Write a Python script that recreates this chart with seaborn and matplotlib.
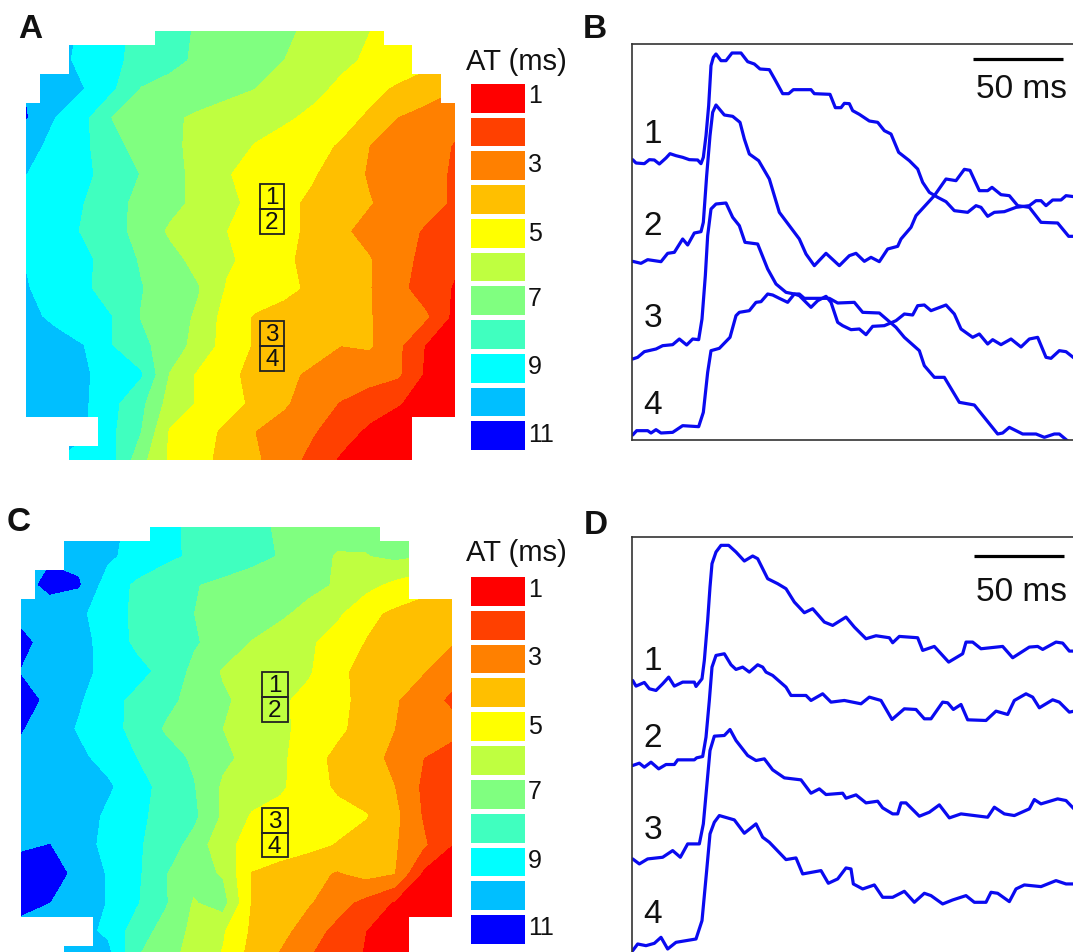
import numpy as np
import matplotlib
matplotlib.use("Agg")
import matplotlib.pyplot as plt
from matplotlib.colors import ListedColormap
from matplotlib.patches import Polygon, Rectangle
import seaborn as sns

sns.set_style("white")
plt.rcParams['font.family'] = ['Liberation Sans', 'DejaVu Sans']

W, H = 1073, 953

# activation time bands, 1 ms (red) to 11 ms (blue)
band_colors = ["#FF0000", "#FF4000", "#FF8000", "#FFBF00", "#FFFF00", "#BFFF40",
               "#80FF80", "#40FFBF", "#00FFFF", "#00BFFF", "#0000FF"]
band_values = [1, 2, 3, 4, 5, 6, 7, 8, 9, 10, 11]
band_labels = ["1", "", "3", "", "5", "", "7", "", "9", "", "11"]
levels = [0.5, 1.5, 2.5, 3.5, 4.5, 5.5, 6.5, 7.5, 8.5, 9.5, 10.5, 11.5]

# AT values on a 16 x 16 electrode grid (every second cell of the 30 x 30 map)
at_a = [
    [10.5, 10.0, 9.3, 8.8, 8.2, 7.8, 7.4, 7.15, 6.9, 6.65, 6.3, 5.9, 5.5, 5.1, 4.8, 4.5],
    [10.4, 9.8, 9.25, 8.7, 8.2, 7.75, 7.35, 7.05, 6.8, 6.5, 6.05, 5.7, 5.35, 5.15, 4.8, 4.3],
    [10.4, 10.1, 9.5, 8.65, 7.45, 7.2, 7.0, 6.75, 6.5, 6.1, 5.75, 5.3, 4.8, 4.35, 3.95, 3.55],
    [10.55, 9.5, 8.75, 7.45, 7.05, 6.65, 6.35, 6.1, 5.85, 5.65, 5.3, 4.85, 4.35, 3.5, 3.15, 2.75],
    [9.8, 9.25, 8.7, 7.75, 7.15, 6.7, 6.25, 5.85, 5.45, 5.1, 4.8, 4.4, 3.5, 3.15, 2.8, 2.45],
    [9.5, 9.1, 8.7, 8.1, 7.45, 6.85, 6.2, 5.55, 5.2, 4.9, 4.6, 4.0, 3.4, 3.05, 2.75, 2.4],
    [9.4, 9.0, 8.5, 7.8, 7.25, 6.8, 6.25, 5.75, 5.2, 4.75, 4.3, 3.95, 3.55, 3.1, 2.75, 2.4],
    [9.4, 8.95, 8.4, 7.85, 7.15, 6.35, 5.95, 5.5, 5.15, 4.75, 4.3, 3.65, 3.2, 2.8, 2.4, 2.0],
    [9.45, 9.1, 8.7, 8.1, 7.4, 6.8, 6.2, 5.65, 5.15, 4.65, 4.25, 3.9, 3.55, 2.85, 2.2, 1.65],
    [9.55, 9.1, 8.65, 8.1, 7.55, 7.0, 6.55, 5.4, 5.05, 4.7, 4.35, 3.95, 3.55, 2.75, 2.05, 1.4],
    [9.75, 9.3, 8.9, 8.5, 7.45, 6.95, 6.35, 5.05, 4.4, 4.2, 3.95, 3.75, 3.55, 3.05, 2.6, 1.2],
    [10.1, 9.85, 9.5, 8.5, 7.75, 7.0, 6.15, 5.05, 4.4, 4.15, 3.85, 3.5, 3.6, 2.7, 1.4, 1.0],
    [10.1, 9.9, 9.6, 9.15, 8.6, 6.45, 5.35, 4.75, 4.2, 3.7, 3.35, 3.1, 2.9, 2.65, 1.3, 1.0],
    [10.1, 9.9, 9.65, 8.75, 7.75, 6.1, 5.4, 4.85, 4.3, 3.65, 2.95, 2.45, 2.0, 1.55, 1.2, 1.0],
    [10.0, 9.9, 9.6, 8.65, 7.5, 5.4, 4.9, 4.3, 3.5, 3.05, 2.6, 1.95, 1.3, 1.1, 1.0, 1.0],
    [9.6, 9.5, 9.2, 8.75, 6.8, 5.35, 4.8, 4.2, 3.65, 2.95, 2.2, 1.35, 1.1, 1.0, 1.0, 1.0],
]
at_c = [
    [10.6, 10.3, 10.05, 9.75, 9.25, 8.75, 8.3, 8.0, 7.7, 7.4, 7.2, 7.0, 6.8, 6.55, 6.3, 6.0],
    [10.4, 10.4, 10.2, 9.7, 9.1, 8.7, 8.35, 8.05, 7.75, 7.45, 7.0, 6.4, 6.45, 6.7, 6.5, 6.2],
    [10.2, 10.7, 10.6, 9.0, 8.35, 7.95, 7.55, 7.3, 7.1, 6.95, 6.75, 6.4, 5.8, 5.25, 4.8, 4.4],
    [10.2, 10.1, 9.7, 8.95, 8.3, 7.9, 7.5, 7.25, 7.0, 6.65, 6.2, 5.65, 4.75, 4.3, 4.1, 3.85],
    [10.75, 10.1, 9.85, 9.1, 8.3, 7.95, 7.6, 7.1, 6.45, 6.05, 5.65, 5.05, 4.45, 4.15, 3.85, 3.55],
    [10.45, 10.3, 9.75, 9.25, 8.8, 8.2, 7.25, 6.4, 6.15, 5.9, 5.6, 4.7, 4.2, 3.95, 3.55, 2.9],
    [10.75, 10.35, 9.6, 8.85, 8.25, 7.75, 7.2, 6.65, 6.15, 5.65, 5.2, 4.75, 4.2, 3.6, 2.95, 2.3],
    [10.55, 10.0, 9.4, 8.85, 8.2, 7.4, 6.95, 6.5, 6.0, 5.65, 5.25, 4.7, 4.1, 3.5, 2.95, 2.85],
    [10.2, 10.05, 9.7, 9.15, 8.5, 7.9, 7.35, 6.7, 6.2, 5.7, 4.9, 4.25, 3.8, 3.3, 2.5, 2.0],
    [10.2, 10.2, 10.05, 9.65, 8.9, 8.15, 7.55, 6.35, 6.0, 5.65, 4.95, 4.35, 3.95, 3.5, 2.3, 2.0],
    [10.35, 10.3, 10.05, 9.3, 8.7, 8.2, 7.7, 6.35, 5.4, 5.1, 4.9, 4.8, 4.55, 3.75, 2.4, 1.95],
    [10.35, 10.5, 9.95, 9.2, 8.65, 8.0, 7.15, 5.75, 5.2, 4.95, 4.75, 4.45, 4.1, 3.6, 2.65, 1.5],
    [10.9, 10.8, 10.3, 9.4, 8.7, 7.55, 6.85, 6.4, 4.45, 4.15, 3.85, 3.4, 3.8, 3.5, 1.3, 1.0],
    [10.9, 10.5, 10.1, 9.45, 8.6, 7.6, 6.4, 6.9, 4.45, 4.0, 3.6, 2.9, 2.2, 1.4, 1.0, 1.0],
    [10.0, 10.0, 9.9, 9.25, 8.0, 7.1, 6.25, 5.6, 4.35, 3.85, 2.95, 2.2, 1.5, 1.1, 1.0, 1.0],
    [10.0, 10.0, 10.0, 10.0, 7.5, 6.9, 6.0, 5.4, 4.1, 3.3, 2.5, 2.0, 1.4, 1.0, 1.0, 1.0],
]
grid_nodes = [0, 2, 4, 6, 8, 10, 12, 14, 16, 18, 20, 22, 24, 26, 28, 30]

# staircase edge of the electrode array: first row, last row, left col, right col
edge_a = [(0, 1, 9, 25), (1, 3, 3, 27), (3, 5, 1, 29), (5, 27, 0, 30), (27, 29, 5, 27), (29, 30, 3, 27)]
edge_c = [(0, 1, 9, 25), (1, 3, 3, 27), (3, 5, 1, 27), (5, 27, 0, 30), (27, 29, 5, 27), (29, 30, 3, 27)]

# optical action potentials, x in samples (5.4 per ms), y in display units
b1_x = [170, 180, 205, 220, 235, 250, 270, 282, 300, 320, 340, 365, 375, 382, 390, 398, 405, 412, 420, 435, 450, 468, 495, 515, 535, 552, 580, 597, 620, 638, 652, 705, 715, 762, 778, 795, 805, 820, 830, 850, 880, 905, 925, 945, 968, 1000, 1025, 1040, 1060, 1085, 1110, 1135, 1175, 1200, 1215, 1235, 1255, 1285, 1320, 1360, 1380, 1395, 1410, 1430, 1455, 1470, 1494]
b1_y = [452, 462, 464, 452, 453, 465, 447, 434, 440, 445, 452, 453, 464, 445, 380, 290, 170, 145, 135, 155, 155, 132, 132, 158, 165, 180, 182, 212, 254, 254, 242, 242, 254, 256, 296, 296, 283, 284, 305, 316, 336, 340, 365, 375, 430, 455, 480, 520, 550, 565, 578, 605, 610, 590, 595, 622, 610, 608, 595, 590, 575, 575, 590, 573, 573, 560, 563]
b2_x = [170, 195, 215, 255, 275, 295, 320, 335, 355, 375, 382, 392, 402, 410, 420, 445, 470, 492, 505, 520, 548, 580, 610, 640, 670, 690, 715, 750, 790, 820, 840, 865, 885, 910, 935, 965, 975, 1005, 1020, 1075, 1110, 1140, 1165, 1182, 1210, 1235, 1248, 1275, 1300, 1325, 1360, 1395, 1445, 1478, 1494]
b2_y = [757, 763, 752, 758, 733, 730, 690, 708, 672, 668, 640, 500, 380, 310, 288, 318, 322, 340, 390, 435, 455, 510, 610, 650, 690, 735, 770, 733, 770, 740, 733, 757, 745, 758, 720, 712, 690, 655, 620, 560, 510, 515, 481, 484, 545, 545, 535, 557, 560, 590, 595, 640, 642, 682, 682]
b3_x = [170, 185, 205, 240, 260, 290, 310, 332, 350, 368, 378, 388, 395, 405, 420, 450, 470, 490, 507, 545, 575, 600, 630, 655, 670, 705, 725, 750, 765, 785, 800, 825, 850, 870, 890, 925, 960, 985, 1010, 1025, 1045, 1065, 1110, 1135, 1155, 1190, 1210, 1235, 1250, 1275, 1305, 1335, 1360, 1385, 1410, 1425, 1450, 1470, 1494]
b3_y = [1050, 1045, 1028, 1020, 1010, 1007, 990, 1008, 990, 992, 930, 800, 680, 600, 585, 582, 625, 650, 700, 705, 780, 825, 850, 855, 860, 895, 875, 862, 880, 940, 950, 962, 960, 977, 952, 950, 935, 915, 918, 890, 888, 905, 888, 915, 960, 985, 975, 1005, 992, 1007, 990, 1014, 990, 985, 1045, 1048, 1025, 1028, 1047]
b4_x = [170, 182, 215, 225, 240, 255, 290, 320, 368, 382, 395, 405, 430, 462, 480, 490, 520, 540, 555, 575, 590, 610, 635, 655, 670, 685, 760, 785, 835, 860, 910, 960, 985, 1030, 1045, 1075, 1105, 1150, 1195, 1265, 1280, 1300, 1340, 1380, 1405, 1435, 1450, 1480, 1494]
b4_y = [1278, 1265, 1265, 1272, 1262, 1272, 1270, 1250, 1253, 1210, 1090, 1025, 1018, 985, 920, 910, 905, 880, 878, 855, 858, 868, 880, 855, 855, 868, 868, 882, 880, 910, 912, 955, 985, 1025, 1070, 1105, 1105, 1180, 1188, 1275, 1272, 1255, 1275, 1275, 1285, 1275, 1275, 1300, 1303]

d1_x = [170, 180, 205, 220, 240, 260, 278, 295, 320, 355, 360, 378, 385, 395, 402, 408, 420, 435, 458, 480, 505, 530, 545, 575, 605, 630, 655, 685, 710, 745, 770, 810, 835, 870, 900, 940, 950, 970, 1025, 1040, 1075, 1118, 1160, 1170, 1190, 1215, 1280, 1310, 1360, 1385, 1400, 1440, 1460, 1480, 1494]
d1_y = [530, 547, 536, 555, 560, 540, 520, 547, 535, 535, 548, 525, 470, 350, 250, 180, 145, 125, 125, 145, 172, 157, 165, 225, 240, 255, 295, 327, 315, 355, 365, 340, 370, 405, 396, 402, 417, 398, 402, 440, 428, 475, 450, 415, 415, 435, 428, 462, 430, 428, 437, 415, 418, 442, 442]
d2_x = [170, 190, 205, 225, 248, 270, 295, 305, 355, 362, 380, 390, 400, 408, 420, 445, 465, 480, 500, 520, 545, 560, 570, 590, 630, 645, 690, 705, 740, 765, 805, 855, 880, 915, 948, 985, 1020, 1045, 1065, 1100, 1115, 1132, 1155, 1175, 1230, 1260, 1295, 1315, 1350, 1370, 1390, 1430, 1450, 1480, 1494]
d2_y = [785, 778, 790, 775, 795, 782, 782, 768, 768, 762, 758, 700, 590, 490, 455, 450, 483, 497, 490, 505, 483, 490, 505, 515, 550, 575, 575, 590, 570, 595, 590, 600, 580, 590, 647, 615, 617, 645, 645, 595, 597, 617, 602, 648, 650, 622, 632, 590, 570, 580, 612, 588, 595, 625, 622]
d3_x = [170, 190, 215, 260, 290, 313, 335, 370, 382, 392, 402, 415, 445, 462, 480, 515, 540, 565, 590, 625, 675, 705, 730, 750, 800, 810, 840, 870, 905, 920, 950, 965, 975, 990, 1030, 1060, 1090, 1120, 1155, 1235, 1255, 1285, 1315, 1360, 1375, 1395, 1445, 1470, 1494]
d3_y = [1065, 1080, 1065, 1060, 1040, 1060, 1020, 1020, 960, 850, 740, 697, 695, 677, 710, 755, 770, 765, 798, 822, 828, 868, 855, 872, 868, 883, 873, 897, 892, 912, 930, 930, 897, 897, 937, 925, 903, 942, 930, 940, 910, 930, 935, 915, 887, 900, 885, 890, 915]
d4_x = [170, 185, 210, 235, 255, 275, 300, 360, 378, 392, 402, 415, 430, 475, 505, 540, 560, 580, 630, 660, 680, 735, 757, 785, 810, 825, 832, 860, 895, 920, 950, 985, 1015, 1045, 1065, 1100, 1130, 1170, 1195, 1230, 1245, 1265, 1300, 1320, 1345, 1395, 1440, 1470, 1494]
d4_y = [1340, 1320, 1325, 1318, 1300, 1335, 1315, 1305, 1250, 1100, 990, 955, 935, 948, 988, 960, 1000, 1015, 1067, 1062, 1110, 1100, 1138, 1125, 1092, 1095, 1140, 1155, 1143, 1180, 1180, 1162, 1195, 1168, 1175, 1200, 1188, 1175, 1195, 1195, 1165, 1168, 1193, 1155, 1143, 1148, 1130, 1140, 1140]

trace_names = ["1", "2", "3", "4"]
FONT_LABEL = 24
trace_blue = "#0A0AF0"


def px_axes(fig, left, top, right, bottom):
    # axes placed by pixel position in the reference
    return fig.add_axes([left / W, 1 - bottom / H, (right - left) / W, (bottom - top) / H])


def draw_map(fig, at, edge, box, boxes_x, boxes_y):
    ax = px_axes(fig, *box)
    cs = ax.contourf(grid_nodes, grid_nodes, at, levels=levels, colors=band_colors)
    left_side, right_side = [], []
    for r0, r1, c0, c1 in edge:
        left_side += [(c0, r0), (c0, r1)]
        right_side += [(c1, r0), (c1, r1)]
    outline = Polygon(left_side + right_side[::-1], closed=True, transform=ax.transData,
                      fc="none", ec="none")
    ax.add_patch(outline)
    cs.set_clip_path(outline)
    ax.set_xlim(0, 30)
    ax.set_ylim(30, 0)
    ax.axis("off")
    # recording sites
    for i, name in enumerate(trace_names):
        y0, y1 = boxes_y[i]
        ax.add_patch(Rectangle((boxes_x[0], y0), boxes_x[1] - boxes_x[0], y1 - y0,
                               fc="none", ec="#222222", lw=1.3, zorder=5))
        ax.text(sum(boxes_x) / 2, (y0 + y1) / 2 + 0.05, name, ha="center", va="center",
                fontsize=17.5, color="#111111", zorder=6)
    return ax


def draw_legend(fig, box, title_y, label_ys):
    ax = px_axes(fig, *box)
    sns.heatmap([[v] for v in band_values], ax=ax, cmap=ListedColormap(band_colors),
                vmin=0.5, vmax=11.5, cbar=False, linewidths=2.4, linecolor="white",
                xticklabels=False, yticklabels=False)
    labels = [s for s in band_labels if s]
    for s, y in zip(labels, label_ys):
        fig.text(528 / W, 1 - y / H, s, ha="left", va="center", fontsize=18, color="#111111")
    fig.text(516 / W, 1 - title_y / H, "AT (ms)", ha="center", va="center", fontsize=21,
             color="#111111")


def draw_traces(fig, box, xlim, ylim, traces, label_ys, bar_y, bar_x, text_xy, sides):
    ax = px_axes(fig, *box)
    for tx, ty in traces:
        sns.lineplot(x=tx, y=ty, ax=ax, color=trace_blue, lw=2.3, sort=False, estimator=None)
    ax.plot(bar_x, [bar_y, bar_y], color="black", lw=2.3, solid_capstyle="butt")
    ax.text(text_xy[0], text_xy[1], "50 ms", ha="center", va="center", fontsize=FONT_LABEL,
            color="#111111")
    for name, y in zip(trace_names, label_ys):
        ax.text(230, y, name, ha="center", va="center", fontsize=FONT_LABEL, color="#111111")
    ax.set_xlim(*xlim)
    ax.set_ylim(*ylim)
    ax.set_xticks([])
    ax.set_yticks([])
    for name, spine in ax.spines.items():
        spine.set_visible(name in sides)
        spine.set_color("#333333")
        spine.set_linewidth(1.2)
    return ax


fig = plt.figure(figsize=(W / 100, H / 100), dpi=100, facecolor="white")

# A
draw_map(fig, at_a, edge_a, (26, 32, 455, 461), (16.35, 18.05),
         [(10.7, 12.45), (12.45, 14.2), (20.28, 22.03), (22.03, 23.77)])
draw_legend(fig, (468, 82, 527, 453), 62, [96, 165, 234, 299, 367, 435])
# B
draw_traces(fig, (632, 45, 1073, 441), (168, 1491), (1293, 105),
            [(b1_x, b1_y), (b2_x, b2_y), (b3_x, b3_y), (b4_x, b4_y)],
            [372, 650, 925, 1188], 150, [1192, 1462], (1335, 237), ("left", "top", "bottom"))
# C
draw_map(fig, at_c, edge_c, (21, 527.7, 452, 961), (16.75, 18.55),
         [(10.05, 11.8), (11.8, 13.5), (19.5, 21.2), (21.2, 22.9)])
draw_legend(fig, (468, 575, 527, 947), 553, [590, 658, 727, 792, 861, 928])
# D
draw_traces(fig, (632, 538, 1073, 953), (168, 1491), (1344, 100),
            [(d1_x, d1_y), (d2_x, d2_y), (d3_x, d3_y), (d4_x, d4_y)],
            [470, 702, 977, 1228], 158, [1195, 1465], (1336, 262), ("left", "top"))

for letter, x, y in [("A", 30, 30), ("B", 595, 30), ("C", 19, 523), ("D", 596, 525)]:
    fig.text(x / W, 1 - y / H, letter, ha="center", va="center", fontsize=24, fontweight="bold",
             color="#111111")

fig.savefig("out.png", dpi=100)
